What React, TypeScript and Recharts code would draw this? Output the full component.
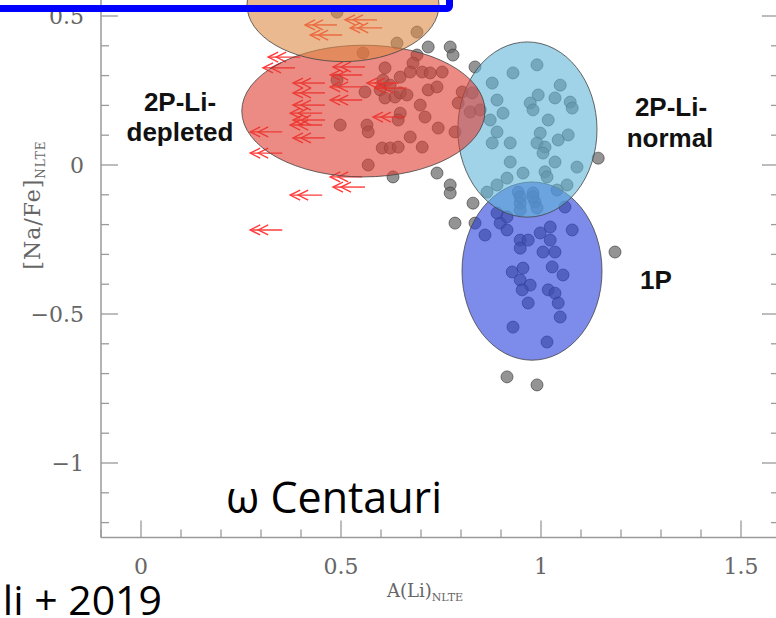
import React from "react";
import { ScatterChart, Scatter, XAxis, YAxis, ReferenceArea } from "recharts";

// [A(Li), [Na/Fe]] for measured stars
const STARS: [number, number][] = [
  [0.555, 0.376], [0.718, 0.396], [0.773, 0.396], [0.78, 0.369], [0.69, 0.369],
  [0.68, 0.342], [0.61, 0.326], [0.648, 0.295], [0.673, 0.312], [0.703, 0.312],
  [0.723, 0.309], [0.753, 0.312], [0.49, 0.285], [0.605, 0.285], [0.623, 0.268],
  [0.56, 0.245], [0.598, 0.252], [0.61, 0.225], [0.635, 0.228], [0.648, 0.242],
  [0.665, 0.235], [0.718, 0.252], [0.74, 0.262], [0.698, 0.201], [0.648, 0.174],
  [0.643, 0.151], [0.71, 0.161], [0.498, 0.134], [0.565, 0.134], [0.568, 0.111],
  [0.743, 0.124], [0.785, 0.111], [0.673, 0.094], [0.603, 0.057], [0.623, 0.057],
  [0.643, 0.06], [0.703, 0.06], [0.568, 0.0], [0.63, -0.04], [0.74, -0.027],
  [0.773, -0.067], [0.803, 0.245], [0.828, 0.242], [0.823, 0.178], [0.848, 0.185],
  [0.793, 0.208], [0.835, 0.329], [0.773, -0.094], [0.83, -0.128], [0.785, -0.195],
  [0.64, 0.409], [0.69, 0.446], [0.49, 0.513],
  [0.99, 0.336], [0.93, 0.309], [0.878, 0.275], [1.048, 0.268], [0.993, 0.235],
  [0.89, 0.218], [0.973, 0.208], [1.035, 0.225], [1.073, 0.211], [1.078, 0.191],
  [0.98, 0.185], [0.905, 0.174], [0.873, 0.151], [1.018, 0.151], [0.89, 0.111],
  [0.998, 0.107], [1.068, 0.101], [1.043, 0.084], [0.878, 0.074], [0.923, 0.074],
  [0.99, 0.074], [1.01, 0.06], [1.005, 0.04], [0.923, 0.01], [1.035, 0.01],
  [1.09, -0.007], [1.143, 0.023], [0.955, -0.027], [1.01, -0.023], [0.915, -0.044],
  [0.89, -0.067], [1.015, -0.04], [1.065, -0.067], [0.865, -0.091], [0.943, -0.091],
  [0.98, -0.094], [0.948, -0.128], [0.985, -0.124], [1.04, -0.084],
  [0.835, -0.195], [0.86, -0.235], [0.898, -0.195], [0.915, -0.218], [0.948, -0.252],
  [0.948, -0.279], [0.968, -0.252], [0.998, -0.228], [1.023, -0.208], [1.023, -0.252],
  [1.005, -0.292], [1.035, -0.292], [1.078, -0.218], [1.185, -0.292], [0.928, -0.359],
  [0.955, -0.346], [0.948, -0.386], [0.973, -0.403], [0.953, -0.419], [1.028, -0.342],
  [1.055, -0.369], [1.018, -0.419], [1.035, -0.43], [1.043, -0.463], [0.968, -0.463],
  [1.048, -0.51], [0.93, -0.544], [1.015, -0.594], [0.915, -0.711], [0.99, -0.738],
  [0.948, -0.107], [0.98, -0.107], [0.948, -0.151], [0.99, -0.144], [0.89, -0.161],
  [0.915, -0.174], [1.06, -0.141],
];

// Li upper limits
const LIMITS: [number, number][] = [
  [0.398, 0.362], [0.385, 0.326], [0.56, 0.329], [0.553, 0.302], [0.46, 0.275],
  [0.553, 0.262], [0.46, 0.242], [0.645, 0.275], [0.453, 0.174], [0.453, 0.134],
  [0.353, 0.111], [0.46, 0.091], [0.353, 0.04], [0.66, 0.161], [0.553, -0.04],
  [0.56, -0.074], [0.453, -0.101], [0.353, -0.218], [0.46, 0.201], [0.46, 0.151],
  [0.553, 0.218], [0.49, 0.47], [0.503, 0.436], [0.59, 0.487], [0.603, 0.46],
  [0.665, 0.258],
];

// population regions: centre and half-widths in data units
const GROUPS = [
  { name: "1P", cx: 0.9775, cy: -0.356, rx: 0.175, ry: 0.299 },
  { name: "2P-Li-normal", cx: 0.966, cy: 0.119, rx: 0.174, ry: 0.294 },
  { name: "2P-Li-depleted", cx: 0.556, cy: 0.181, rx: 0.304, ry: 0.221 },
  { name: "2P-top", cx: 0.505, cy: 0.537, rx: 0.24, ry: 0.19 },
];
const GROUP_COLORS: Record<string, string> = {
  "1P": "#263fde",
  "2P-Li-normal": "#61b4d9",
  "2P-Li-depleted": "#df3c32",
  "2P-top": "#de8a45",
};

const X_TICKS = [-0.1, 0, 0.1, 0.2, 0.3, 0.4, 0.5, 0.6, 0.7, 0.8, 0.9, 1, 1.1, 1.2, 1.3, 1.4, 1.5, 1.6];
const Y_TICKS = [-1.2, -1.1, -1, -0.9, -0.8, -0.7, -0.6, -0.5, -0.4, -0.3, -0.2, -0.1, 0, 0.1, 0.2, 0.3, 0.4, 0.5, 0.6, 0.7];

const stars = STARS.map(([x, y]) => ({ x, y }));
const limits = LIMITS.map(([x, y]) => ({ x, y }));

const AXIS = "#9a9a9a";
const TICK_FONT = "DejaVu Serif, serif";

const isMajor = (v: number) => Math.abs(v * 2 - Math.round(v * 2)) < 1e-6;
const fmt = (v: number) => String(Math.round(v * 10) / 10).replace("-", "\u2212");

function LeftTick({ x, y, payload }: any) {
  const major = isMajor(payload.value);
  return (
    <g>
      <line x1={x} x2={x + (major ? 17 : 8)} y1={y} y2={y} stroke={AXIS} strokeWidth={1.3} />
      {major && (
        <text x={x - 17} y={y + 8} textAnchor="end" fontFamily={TICK_FONT} fontSize={22} fill="#666">
          {fmt(payload.value)}
        </text>
      )}
    </g>
  );
}

function RightTick({ x, y, payload }: any) {
  const major = isMajor(payload.value);
  return <line x1={x} x2={x - (major ? 19 : 10)} y1={y} y2={y} stroke={AXIS} strokeWidth={1.3} />;
}

function BottomTick({ x, y, payload }: any) {
  const major = isMajor(payload.value);
  return (
    <g>
      <line x1={x} x2={x} y1={y} y2={y - (major ? 17 : 8)} stroke={AXIS} strokeWidth={1.3} />
      {major && (
        <text x={x} y={y + 36} textAnchor="middle" fontFamily={TICK_FONT} fontSize={22} fill="#666">
          {fmt(payload.value)}
        </text>
      )}
    </g>
  );
}

function StarDot({ cx, cy }: any) {
  return <circle cx={cx} cy={cy} r={6} fill="#666" fillOpacity={0.7} stroke="#333" strokeOpacity={0.6} strokeWidth={1} />;
}

function LimitArrow({ cx, cy }: any) {
  const h = cx - 32;
  return (
    <g stroke="#ff1a1a" strokeWidth={1.4} fill="none" opacity={0.85}>
      <line x1={h} y1={cy} x2={cx} y2={cy} />
      <polyline points={`${h + 10},${cy - 5} ${h},${cy} ${h + 10},${cy + 5}`} />
      <polyline points={`${h + 18},${cy - 5} ${h + 8},${cy} ${h + 18},${cy + 5}`} />
    </g>
  );
}

const ellipseShape = (color: string) => (p: any) =>
  (
    <ellipse
      cx={p.x + p.width / 2}
      cy={p.y + p.height / 2}
      rx={Math.abs(p.width) / 2}
      ry={Math.abs(p.height) / 2}
      fill={color}
      fillOpacity={0.6}
      stroke="#444"
      strokeOpacity={0.8}
      strokeWidth={1}
    />
  );

const LABEL_FONT = "Liberation Sans, Arial, sans-serif";

export default function App() {
  return (
    <div style={{ position: "absolute", left: 0, top: 0, width: 776, height: 618, overflow: "hidden", background: "#fff" }}>
      <div style={{ position: "absolute", left: 0, top: -80 }}>
        <ScatterChart width={820} height={700} margin={{ top: 21.5, right: 9, bottom: 22.5, left: 41 }}>
          <XAxis
            type="number"
            dataKey="x"
            domain={[-0.1, 1.6]}
            allowDataOverflow
            ticks={X_TICKS}
            interval={0}
            height={60}
            tickSize={0}
            tickMargin={0}
            tickLine={false}
            tick={<BottomTick />}
            axisLine={{ stroke: AXIS, strokeWidth: 1.5 }}
          />
          <YAxis
            yAxisId="left"
            type="number"
            dataKey="y"
            domain={[-1.25, 0.75]}
            allowDataOverflow
            ticks={Y_TICKS}
            interval={0}
            width={60}
            tickSize={0}
            tickMargin={0}
            tickLine={false}
            tick={<LeftTick />}
            axisLine={{ stroke: AXIS, strokeWidth: 1.5 }}
          />
          <YAxis
            yAxisId="right"
            orientation="right"
            type="number"
            domain={[-1.25, 0.75]}
            allowDataOverflow
            ticks={Y_TICKS}
            interval={0}
            width={30}
            tickSize={0}
            tickMargin={0}
            tickLine={false}
            tick={<RightTick />}
            axisLine={{ stroke: AXIS, strokeWidth: 1.5 }}
          />
          <Scatter yAxisId="left" data={stars} shape={<StarDot />} isAnimationActive={false} />
          <Scatter yAxisId="left" data={limits} shape={<LimitArrow />} isAnimationActive={false} />
          {GROUPS.map((g) => (
            <ReferenceArea
              key={g.name}
              yAxisId="left"
              x1={g.cx - g.rx}
              x2={g.cx + g.rx}
              y1={g.cy - g.ry}
              y2={g.cy + g.ry}
              ifOverflow="visible"
              zIndex={650}
              shape={ellipseShape(GROUP_COLORS[g.name])}
            />
          ))}
        </ScatterChart>
      </div>
      <svg width={776} height={618} style={{ position: "absolute", left: 0, top: 0, pointerEvents: "none" }}>
        <g fontFamily={LABEL_FONT} fontWeight="bold" fontSize={26} fill="#111" textAnchor="middle">
          <text x={180} y={111}>2P-Li-</text>
          <text x={180} y={141}>depleted</text>
          <text x={671} y={116}>2P-Li-</text>
          <text x={670} y={147}>normal</text>
          <text x={656} y={289}>1P</text>
        </g>
        <text x={334} y={513} textAnchor="middle" fontFamily="Open Sans, sans-serif" fontSize={43} fill="#000">
          ω Centauri
        </text>
        <text x={162} y={615} textAnchor="end" fontFamily="Open Sans, sans-serif" fontSize={41} fill="#000">
          li + 2019
        </text>
        <text x={425} y={597} textAnchor="middle" fontFamily={TICK_FONT} fontSize={18} fill="#666">
          A(Li)
          <tspan fontSize={11} dy={4}>NLTE</tspan>
        </text>
        <g transform="translate(40,205) rotate(-90)">
          <text x={0} y={0} textAnchor="middle" fontFamily={TICK_FONT} fontSize={22} fill="#666" letterSpacing={1}>
            [Na/Fe]
            <tspan fontSize={12} dy={5}>NLTE</tspan>
          </text>
        </g>
      </svg>
      <div
        style={{
          position: "absolute",
          left: -20,
          top: -100,
          width: 473,
          height: 112,
          boxSizing: "border-box",
          border: "7px solid #0000ff",
          borderRadius: 6,
        }}
      />
    </div>
  );
}
